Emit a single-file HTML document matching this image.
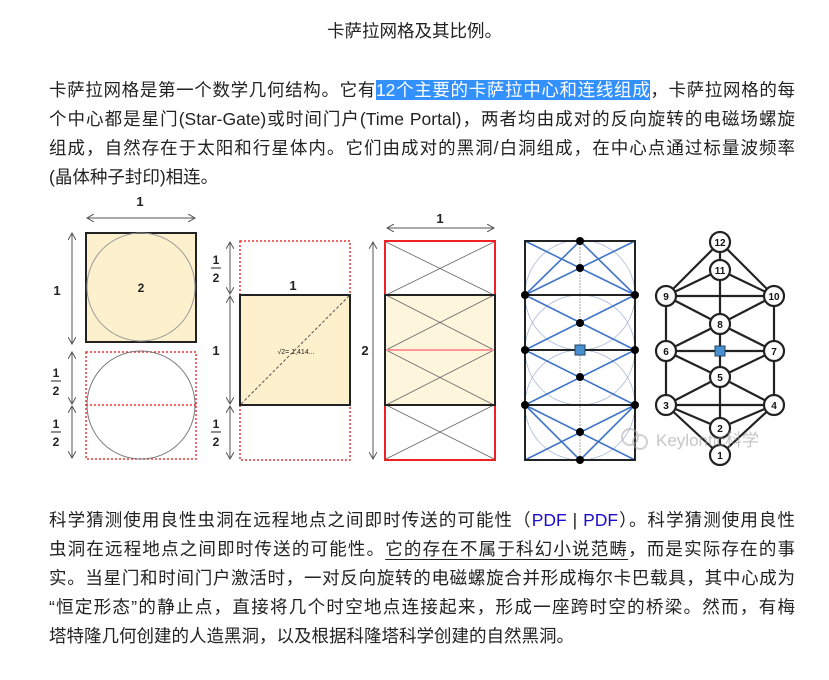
<!DOCTYPE html>
<html><head><meta charset="utf-8">
<style>
body{margin:0;background:#fff;width:829px;height:680px;position:relative;overflow:hidden;font-family:"Liberation Sans","Noto Sans CJK SC",sans-serif;color:#222;}
.t{position:absolute;left:0;width:829px;text-align:center;top:18px;font-size:17.5px;}
.l{position:absolute;left:49px;width:746px;font-size:17.5px;line-height:29px;white-space:nowrap;text-align:justify;text-align-last:justify;}
.nj{text-align-last:left;}
.hl{background:#3390ff;color:#fff;}
.a{color:#1a0dcc;}
.u{text-decoration:underline;text-underline-offset:4px;}
svg{position:absolute;left:0;top:0;}
</style></head><body>
<div class="t">卡萨拉网格及其比例。</div>
<div class="l" style="top:76px">卡萨拉网格是第一个数学几何结构。它有<span class="hl">12个主要的卡萨拉中心和连线组成</span>，卡萨拉网格的每</div>
<div class="l" style="top:105px">个中心都是星门(Star-Gate)或时间门户(Time Portal)，两者均由成对的反向旋转的电磁场螺旋</div>
<div class="l" style="top:134px">组成，自然存在于太阳和行星体内。它们由成对的黑洞/白洞组成，在中心点通过标量波频率</div>
<div class="l nj" style="top:163px">(晶体种子封印)相连。</div>

<div class="l" style="top:506px">科学猜测使用良性虫洞在远程地点之间即时传送的可能性（<span class="a">PDF</span> | <span class="a">PDF</span>）。科学猜测使用良性</div>
<div class="l" style="top:535px">虫洞在远程地点之间即时传送的可能性。<span class="u">它的存在不属于科幻小说范畴</span>，而是实际存在的事</div>
<div class="l" style="top:564px">实。当星门和时间门户激活时，一对反向旋转的电磁螺旋合并形成梅尔卡巴载具，其中心成为</div>
<div class="l" style="top:593px">“恒定形态”的静止点，直接将几个时空地点连接起来，形成一座跨时空的桥梁。然而，有梅</div>
<div class="l nj" style="top:622px">塔特隆几何创建的人造黑洞，以及根据科隆塔科学创建的自然黑洞。</div>

<svg width="829" height="680" font-family="Liberation Sans, sans-serif">
<defs><marker id="ar" markerWidth="8" markerHeight="8" refX="7" refY="4" orient="auto-start-reverse"><path d="M0,0 L7,4 L0,8" fill="none" stroke="#555" stroke-width="1"/></marker></defs>
<g stroke="#555" stroke-width="1" marker-start="url(#ar)" marker-end="url(#ar)">
<line x1="87" y1="218" x2="195" y2="218"/>
<line x1="72" y1="233" x2="72" y2="344"/>
<line x1="72" y1="352" x2="72" y2="404"/>
<line x1="72" y1="406" x2="72" y2="458"/>
<line x1="230" y1="242" x2="230" y2="294"/>
<line x1="230" y1="296" x2="230" y2="404"/>
<line x1="230" y1="406" x2="230" y2="459"/>
<line x1="387" y1="228" x2="494" y2="228"/>
<line x1="373" y1="242" x2="373" y2="459"/>
</g>
<g font-size="13" font-weight="bold" fill="#222" text-anchor="middle">
<text x="140" y="206">1</text><text x="57" y="295">1</text>
<text x="293" y="290">1</text><text x="216" y="355">1</text>
<text x="440" y="223">1</text><text x="365" y="355">2</text>
</g>
<g font-size="12" font-weight="bold" fill="#222" text-anchor="middle">
<text x="56" y="377">1</text><line x1="51" y1="381" x2="61" y2="381" stroke="#222"/><text x="56" y="395">2</text>
<text x="56" y="428">1</text><line x1="51" y1="432" x2="61" y2="432" stroke="#222"/><text x="56" y="446">2</text>
<text x="216" y="264">1</text><line x1="211" y1="268" x2="221" y2="268" stroke="#222"/><text x="216" y="282">2</text>
<text x="216" y="428">1</text><line x1="211" y1="432" x2="221" y2="432" stroke="#222"/><text x="216" y="446">2</text>
</g>
<!-- fig1 -->
<rect x="86" y="233" width="110" height="109" fill="#fdf0cc" stroke="#222" stroke-width="2"/>
<circle cx="141" cy="287" r="54" fill="none" stroke="#999"/>
<text x="141" y="292" font-size="12" font-weight="bold" text-anchor="middle" fill="#222">2</text>
<rect x="86" y="352" width="110" height="107" fill="none" stroke="#e33" stroke-width="1.5" stroke-dasharray="2,2"/>
<circle cx="141" cy="405" r="54" fill="none" stroke="#777"/>
<line x1="86" y1="405" x2="196" y2="405" stroke="#e33" stroke-width="1.5" stroke-dasharray="2,2"/>
<!-- fig2 -->
<rect x="240" y="241" width="110" height="219" fill="none" stroke="#e33" stroke-width="1.5" stroke-dasharray="2,2"/>
<rect x="240" y="295" width="110" height="110" fill="#fdf0cc" stroke="#222" stroke-width="2"/>
<line x1="241" y1="404" x2="349" y2="296" stroke="#555" stroke-dasharray="3,2"/>
<text x="296" y="354" font-size="7" text-anchor="middle" fill="#222">√2= 1,414...</text>
<!-- fig3 -->
<rect x="385" y="295" width="110" height="110" fill="#fdf5dc"/>
<g stroke="#666" stroke-width="0.8">
<line x1="386" y1="242" x2="494" y2="295"/><line x1="494" y1="242" x2="386" y2="295"/>
<line x1="386" y1="295" x2="494" y2="350"/><line x1="494" y1="295" x2="386" y2="350"/>
<line x1="386" y1="350" x2="494" y2="405"/><line x1="494" y1="350" x2="386" y2="405"/>
<line x1="386" y1="405" x2="494" y2="459"/><line x1="494" y1="405" x2="386" y2="459"/>
</g>
<line x1="386" y1="350" x2="494" y2="350" stroke="#f99" stroke-width="2"/>
<rect x="385" y="241" width="110" height="219" fill="none" stroke="#e22" stroke-width="2"/>
<rect x="385" y="295" width="110" height="110" fill="none" stroke="#222" stroke-width="2"/>
<!-- fig4 -->
<g fill="none" stroke="#a8b8d8" stroke-width="0.8">
<circle cx="580" cy="295" r="55"/><circle cx="580" cy="350" r="55"/><circle cx="580" cy="405" r="55"/>
</g>
<line x1="580" y1="241" x2="580" y2="460" stroke="#aaa" stroke-dasharray="2,1"/>
<g stroke="#3f74c8" stroke-width="1.6">
<line x1="525" y1="241" x2="635" y2="295"/><line x1="635" y1="241" x2="525" y2="295"/>
<line x1="580" y1="241" x2="525" y2="295"/><line x1="580" y1="241" x2="635" y2="295"/>
<line x1="525" y1="295" x2="635" y2="350"/><line x1="635" y1="295" x2="525" y2="350"/>
<line x1="525" y1="350" x2="635" y2="405"/><line x1="635" y1="350" x2="525" y2="405"/>
<line x1="525" y1="405" x2="635" y2="460"/><line x1="635" y1="405" x2="525" y2="460"/>
<line x1="580" y1="460" x2="525" y2="405"/><line x1="580" y1="460" x2="635" y2="405"/>
</g>
<rect x="525" y="241" width="110" height="219" fill="none" stroke="#222" stroke-width="2"/>
<g stroke="#222" stroke-width="2"><line x1="525" y1="295" x2="635" y2="295"/><line x1="525" y1="350" x2="635" y2="350"/><line x1="525" y1="405" x2="635" y2="405"/></g>
<g fill="#000">
<circle cx="580" cy="241" r="4"/><circle cx="580" cy="268" r="4"/><circle cx="580" cy="323" r="4"/><circle cx="580" cy="377" r="4"/><circle cx="580" cy="432" r="4"/><circle cx="580" cy="460" r="4"/>
<circle cx="525" cy="295" r="4"/><circle cx="635" cy="295" r="4"/><circle cx="525" cy="350" r="4"/><circle cx="635" cy="350" r="4"/><circle cx="525" cy="405" r="4"/><circle cx="635" cy="405" r="4"/>
</g>
<rect x="575" y="345" width="10" height="10" fill="#4a90d0" stroke="#246"/>
<!-- fig5 -->
<g stroke="#222" stroke-width="2.2">
<line x1="720" y1="242" x2="720" y2="270"/><line x1="720" y1="242" x2="666" y2="296"/><line x1="720" y1="242" x2="774" y2="296"/>
<line x1="720" y1="270" x2="666" y2="296"/><line x1="720" y1="270" x2="774" y2="296"/><line x1="666" y1="296" x2="774" y2="296"/>
<line x1="720" y1="270" x2="720" y2="428"/>
<line x1="666" y1="296" x2="720" y2="324"/><line x1="774" y1="296" x2="720" y2="324"/>
<line x1="666" y1="296" x2="666" y2="405"/><line x1="774" y1="296" x2="774" y2="405"/>
<line x1="720" y1="324" x2="666" y2="351"/><line x1="720" y1="324" x2="774" y2="351"/>
<line x1="666" y1="351" x2="774" y2="351"/>
<line x1="666" y1="351" x2="720" y2="377"/><line x1="774" y1="351" x2="720" y2="377"/>
<line x1="720" y1="377" x2="666" y2="405"/><line x1="720" y1="377" x2="774" y2="405"/>
<line x1="666" y1="405" x2="774" y2="405"/>
<line x1="666" y1="405" x2="720" y2="428"/><line x1="774" y1="405" x2="720" y2="428"/>
<line x1="666" y1="405" x2="720" y2="455"/><line x1="774" y1="405" x2="720" y2="455"/>
<line x1="720" y1="428" x2="720" y2="455"/>
</g>
<rect x="715" y="346" width="10" height="10" fill="#4a90d0" stroke="#246"/>
<g fill="#fff" stroke="#222" stroke-width="2.2">
<circle cx="720" cy="242" r="10"/><circle cx="720" cy="270" r="10"/><circle cx="666" cy="296" r="10"/><circle cx="774" cy="296" r="10"/>
<circle cx="720" cy="324" r="10"/><circle cx="666" cy="351" r="10"/><circle cx="774" cy="351" r="10"/><circle cx="720" cy="377" r="10"/>
<circle cx="666" cy="405" r="10"/><circle cx="774" cy="405" r="10"/><circle cx="720" cy="428" r="10"/><circle cx="720" cy="455" r="10"/>
</g>
<g font-size="10" font-weight="bold" fill="#111" text-anchor="middle">
<text x="720" y="246">12</text><text x="720" y="274">11</text><text x="666" y="300">9</text><text x="774" y="300">10</text>
<text x="720" y="328">8</text><text x="666" y="355">6</text><text x="774" y="355">7</text><text x="720" y="381">5</text>
<text x="666" y="409">3</text><text x="774" y="409">4</text><text x="720" y="432">2</text><text x="720" y="459">1</text>
</g>
<g opacity="0.55">
<circle cx="630" cy="437" r="8" fill="none" stroke="#aaa" stroke-width="2"/>
<circle cx="640" cy="442" r="7" fill="none" stroke="#aaa" stroke-width="2"/>
<text x="656" y="446" font-size="17" fill="#999">Keylontic科学</text>
</g>
</svg>
</body></html>
